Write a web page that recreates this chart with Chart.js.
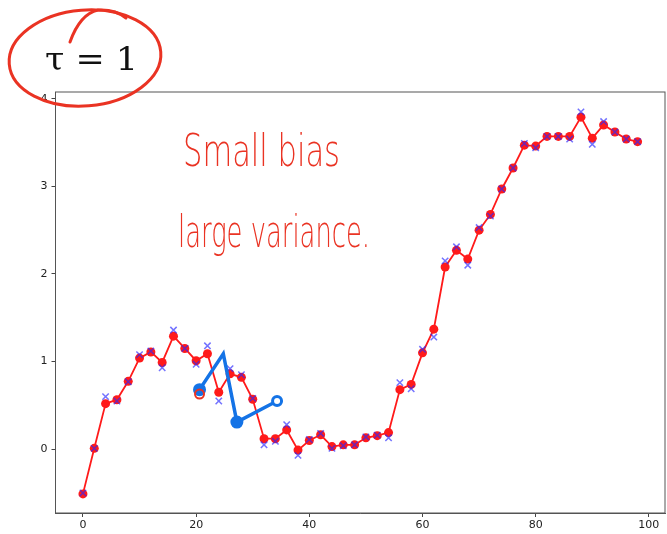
<!DOCTYPE html>
<html>
<head>
<meta charset="utf-8">
<script src="https://cdn.jsdelivr.net/npm/chart.js@4"></script>
<style>
  html, body { margin: 0; padding: 0; background: #fff; overflow: hidden; }
</style>
</head>
<body>
<canvas id="chart" width="673" height="534"></canvas>
<script>
// sample positions
const xs = [0, 2, 4, 6, 8, 10, 12, 14, 16, 18, 20, 22, 24, 26, 28, 30, 32, 34, 36, 38,
            40, 42, 44, 46, 48, 50, 52, 54, 56, 58, 60, 62, 64, 66, 68, 70, 72, 74, 76, 78,
            80, 82, 84, 86, 88, 90, 92, 94, 96, 98];

// blue crosses: observed samples
const observed = [-0.50, 0.01, 0.60, 0.55, 0.77, 1.08, 1.12, 0.93, 1.36, 1.15,
                  0.97, 1.18, 0.55, 0.92, 0.85, 0.58, 0.05, 0.09, 0.28, -0.07,
                  0.11, 0.18, 0.01, 0.04, 0.05, 0.14, 0.16, 0.13, 0.76, 0.69,
                  1.14, 1.28, 2.15, 2.31, 2.10, 2.53, 2.66, 2.97, 3.21, 3.49,
                  3.44, 3.57, 3.57, 3.54, 3.85, 3.48, 3.74, 3.62, 3.54, 3.51];

// red line: fitted values (tau = 1)
const fitted = [-0.51, 0.01, 0.52, 0.565, 0.775, 1.04, 1.11, 0.99, 1.29, 1.15,
                1.01, 1.09, 0.65, 0.86, 0.82, 0.57, 0.12, 0.12, 0.22, -0.01,
                0.10, 0.165, 0.03, 0.05, 0.05, 0.13, 0.155, 0.19, 0.68, 0.74,
                1.10, 1.37, 2.08, 2.27, 2.17, 2.50, 2.68, 2.97, 3.21, 3.47,
                3.46, 3.57, 3.57, 3.57, 3.79, 3.55, 3.70, 3.62, 3.54, 3.51];

// hand-drawn blue scribble (data coordinates)
const scribbleX = [20.6, 24.8, 27.2, 34.3];
const scribbleY = [0.68, 1.09, 0.31, 0.55];

const xTicks = [0, 20, 40, 60, 80, 100];
const yTicks = [0, 1, 2, 3, 4];

const pts = (xa, ya) => xa.map((x, i) => ({ x: x, y: ya[i] }));

const INK = "#ea3323";

const frame = {
  id: "frame",
  afterDraw(chart) {
    const { ctx, chartArea: a } = chart;
    ctx.save();
    ctx.strokeStyle = "#555";
    ctx.lineWidth = 1;
    ctx.strokeRect(a.left, a.top, a.right - a.left, a.bottom - a.top);
    ctx.restore();
  }
};

const notes = {
  id: "notes",
  afterDraw(chart) {
    const ctx = chart.ctx;
    const sx = chart.scales.x, sy = chart.scales.y;

    ctx.save();
    // title "tau = 1"
    ctx.fillStyle = "#111";
    ctx.textBaseline = "alphabetic";
    ctx.font = '32px "DejaVu Serif"';
    let w = ctx.measureText("τ = 1").width;
    ctx.translate(45, 70);
    ctx.scale(93 / w, 1);
    ctx.fillText("τ = 1", 0, 0);
    ctx.restore();

    ctx.save();
    ctx.strokeStyle = INK;
    ctx.lineWidth = 3;
    ctx.lineCap = "round";
    ctx.beginPath();
    ctx.ellipse(85, 58, 76, 48, -0.08, 0, Math.PI * 2);
    ctx.stroke();
    ctx.beginPath();
    ctx.moveTo(70, 42);
    ctx.quadraticCurveTo(80, 14, 98, 10);
    ctx.quadraticCurveTo(115, 9, 126, 18);
    ctx.stroke();

    // small red "o" near start of scribble
    ctx.lineWidth = 2;
    ctx.beginPath();
    ctx.arc(sx.getPixelForValue(20.6), sy.getPixelForValue(0.63), 4.5, 0, Math.PI * 2);
    ctx.stroke();
    ctx.restore();

    // handwritten notes
    const hand = (text, x, base, width, size) => {
      ctx.save();
      ctx.fillStyle = INK;
      ctx.font = '200 ' + size + 'px "DejaVu Sans"';
      const m = ctx.measureText(text).width;
      ctx.translate(x, base);
      ctx.scale(width / m, 1);
      ctx.fillText(text, 0, 0);
      ctx.restore();
    };
    hand("Small bias", 183, 166, 157, 44);
    hand("large variance.", 178, 247, 192, 44);
  }
};

new Chart(document.getElementById("chart"), {
  type: "scatter",
  data: {
    datasets: [
      {
        label: "scribble",
        data: pts(scribbleX, scribbleY),
        showLine: true,
        borderColor: "#1473e6",
        borderWidth: 3.5,
        pointRadius: [5, 0, 5, 4.5],
        pointBackgroundColor: ["#1473e6", "#1473e6", "#1473e6", "#ffffff"],
        pointBorderColor: "#1473e6",
        pointBorderWidth: 3,
        order: 0
      },
      {
        label: "observed",
        data: pts(xs, observed),
        showLine: false,
        pointStyle: "crossRot",
        pointRadius: 4.5,
        pointBorderColor: "rgba(40, 40, 255, 0.65)",
        pointBackgroundColor: "rgba(40, 40, 255, 0.65)",
        pointBorderWidth: 1.5,
        order: 1
      },
      {
        label: "fitted",
        data: pts(xs, fitted),
        showLine: true,
        borderColor: "#ff1a1a",
        borderWidth: 1.8,
        pointRadius: 4.5,
        pointBackgroundColor: "#ff1a1a",
        pointBorderColor: "#ff1a1a",
        pointBorderWidth: 0,
        order: 2
      }
    ]
  },
  options: {
    responsive: false,
    animation: false,
    layout: { padding: { top: 92, right: 1, left: 0, bottom: 0 } },
    plugins: {
      legend: { display: false },
      tooltip: { enabled: false }
    },
    scales: {
      x: {
        type: "linear",
        min: -4.85,
        max: 102.85,
        afterFit: (s) => { s.height = 21; },
        afterBuildTicks: (s) => { s.ticks = xTicks.map(v => ({ value: v })); },
        ticks: {
          color: "#222",
          font: { family: "DejaVu Sans", size: 11 },
          padding: 2,
          maxRotation: 0
        },
        grid: { drawOnChartArea: false, tickLength: 4, color: "#444" },
        border: { color: "#555", width: 1 }
      },
      y: {
        type: "linear",
        min: -0.728,
        max: 4.077,
        afterFit: (s) => { s.width = 55.5; },
        afterBuildTicks: (s) => { s.ticks = yTicks.map(v => ({ value: v })); },
        ticks: {
          color: "#222",
          font: { family: "DejaVu Sans", size: 11 },
          padding: 4
        },
        grid: { drawOnChartArea: false, tickLength: 4, color: "#444" },
        border: { color: "#555", width: 1 }
      }
    }
  },
  plugins: [frame, notes]
});
</script>
</body>
</html>
